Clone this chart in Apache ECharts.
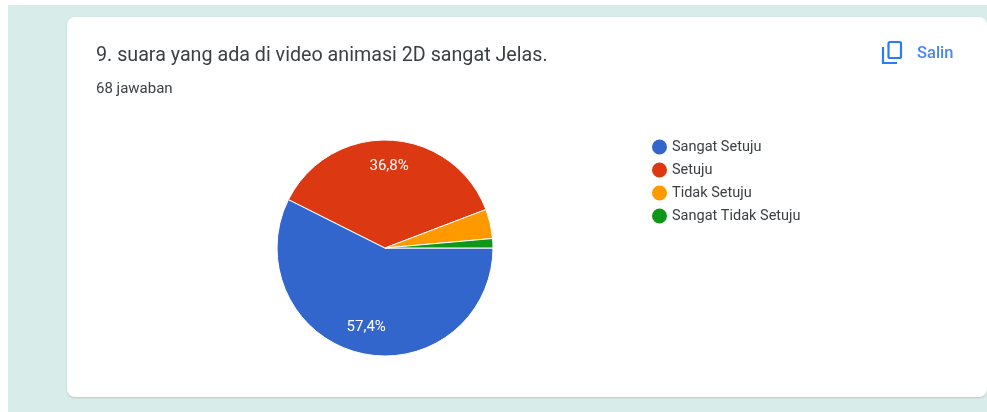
<!DOCTYPE html>
<html><head><meta charset="utf-8">
<style>html,body{margin:0;padding:0;background:#fff}#c{width:987px;height:412px}</style>
<script src="https://cdn.jsdelivr.net/npm/echarts@6/dist/echarts.min.js"></script>
</head><body><div id="c"></div>
<script>
const categories = ["Sangat Setuju","Setuju","Tidak Setuju","Sangat Tidak Setuju"];
const shares = [57.4,36.8,4.4,1.4];
const colors = ["#3366cc","#dc3912","#ff9900","#109618"];
const titleText = "9. suara yang ada di video animasi 2D sangat Jelas.";
const subtitleText = "68 jawaban";
const copyText = "Salin";
const pieData = categories.map((n,i)=>({name:n,value:shares[i],itemStyle:{color:colors[i]}}));
const chart = echarts.init(document.getElementById('c'),null,{renderer:'canvas'});
chart.setOption({
  animation:false,
  backgroundColor:'#fff',
  title:[
    {text:titleText,left:91,top:41.5,textStyle:{fontFamily:'Roboto',fontSize:19.7,fontWeight:400,color:'#3c4043'}},
    {text:subtitleText,left:91,top:76.5,textStyle:{fontFamily:'Roboto',fontSize:15,fontWeight:400,color:'#3c4043'}}
  ],
  legend:{
    orient:'vertical',left:645,top:132.5,itemWidth:17,itemHeight:17,itemGap:4,icon:'circle',
    data:categories,selectedMode:false,
    textStyle:{fontFamily:'Roboto',fontSize:14.5,color:'#3c4043',padding:[0,0,0,-1]}
  },
  graphic:[
    {type:'rect',z:-10,silent:true,shape:{x:8,y:5,width:979,height:407},style:{fill:'#d8ecea'}},
    {type:'rect',z:-9,silent:true,shape:{x:67,y:17,width:920,height:380,r:8},
      style:{fill:'#fff',shadowColor:'rgba(60,64,67,0.2)',shadowBlur:2,shadowOffsetY:1}},
    {type:'polyline',z:5,silent:true,shape:{points:[[883,47],[883,63],[897,63]]},style:{fill:null,stroke:'#2a7cf0',lineWidth:2.2}},
    {type:'rect',z:5,silent:true,shape:{x:888.5,y:42,width:12.5,height:16,r:1.5},style:{fill:null,stroke:'#2a7cf0',lineWidth:2.2}},
    {type:'text',z:5,silent:true,style:{x:917,y:54,text:copyText,verticalAlign:'middle',font:'500 16.5px Roboto',fill:'#4a86f0'}}
  ],
  series:[
    {type:'pie',center:[385,248],radius:[0,108],startAngle:0,clockwise:true,silent:true,
      label:{show:false},labelLine:{show:false},
      itemStyle:{borderColor:'#fff',borderWidth:1},data:pieData},
    {type:'pie',center:[385,248],radius:[49,108],startAngle:0,clockwise:true,silent:true,
      minShowLabelAngle:30,legendHoverLink:false,
      itemStyle:{color:'transparent',opacity:0},
      label:{show:true,position:'inside',opacity:1,fontFamily:'Roboto',fontSize:15,fontWeight:400,color:'#fff',
        formatter:p=>p.value.toFixed(1).replace('.',',')+'%'},
      labelLine:{show:false},
      data:categories.map((n,i)=>({name:n,value:shares[i],itemStyle:{color:'transparent'}}))}
  ]
});
</script></body></html>
